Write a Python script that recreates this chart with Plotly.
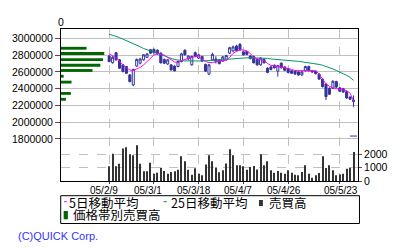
import plotly.graph_objects as go

# ---- data ----
day_index = list(range(72))
date_tick_idx = [0, 13, 26, 39, 52, 67]
date_tick_labels = ["05/2/9", "05/3/1", "05/3/18", "05/4/7", "05/4/26", "05/5/23"]

open_ = [2790000, 2710000, 2830000, 2745000, 2685000, 2665000, 2565000, 2445000, 2670000, 2705000,
         2745000, 2775000, 2865000, 2870000, 2860000, 2825000, 2750000, 2695000, 2685000, 2670000,
         2665000, 2725000, 2860000, 2755000, 2685000, 2830000, 2765000, 2785000, 2690000, 2575000,
         2745000, 2755000, 2745000, 2730000, 2745000, 2825000, 2850000, 2910000, 2930000, 2840000,
         2845000, 2790000, 2785000, 2750000, 2685000, 2750000, 2645000, 2660000, 2680000, 2610000,
         2705000, 2660000, 2640000, 2615000, 2610000, 2600000, 2565000, 2615000, 2665000, 2615000,
         2610000, 2575000, 2515000, 2455000, 2405000, 2405000, 2485000, 2410000, 2400000, 2365000,
         2300000, 2265000]
high = [2800000, 2790000, 2840000, 2755000, 2695000, 2670000, 2575000, 2640000, 2760000, 2770000,
        2815000, 2825000, 2875000, 2880000, 2870000, 2835000, 2760000, 2755000, 2690000, 2680000,
        2735000, 2830000, 2870000, 2800000, 2795000, 2845000, 2815000, 2795000, 2700000, 2695000,
        2830000, 2790000, 2755000, 2790000, 2805000, 2900000, 2915000, 2925000, 2945000, 2850000,
        2855000, 2800000, 2795000, 2760000, 2775000, 2760000, 2655000, 2670000, 2690000, 2685000,
        2715000, 2670000, 2650000, 2625000, 2620000, 2610000, 2610000, 2675000, 2675000, 2625000,
        2620000, 2585000, 2525000, 2465000, 2415000, 2500000, 2495000, 2420000, 2410000, 2375000,
        2310000, 2320000]
low = [2715000, 2700000, 2735000, 2635000, 2595000, 2575000, 2475000, 2430000, 2660000, 2690000,
       2735000, 2765000, 2815000, 2820000, 2805000, 2700000, 2695000, 2685000, 2615000, 2605000,
       2655000, 2715000, 2795000, 2745000, 2675000, 2775000, 2755000, 2720000, 2600000, 2565000,
       2735000, 2700000, 2690000, 2720000, 2735000, 2815000, 2840000, 2845000, 2855000, 2795000,
       2800000, 2750000, 2700000, 2675000, 2675000, 2700000, 2585000, 2620000, 2640000, 2545000,
       2640000, 2610000, 2585000, 2575000, 2565000, 2555000, 2550000, 2605000, 2605000, 2590000,
       2570000, 2505000, 2415000, 2265000, 2325000, 2395000, 2410000, 2360000, 2350000, 2280000,
       2265000, 2180000]
close = [2725000, 2775000, 2745000, 2645000, 2605000, 2585000, 2485000, 2630000, 2750000, 2755000,
         2805000, 2815000, 2825000, 2830000, 2815000, 2710000, 2705000, 2745000, 2625000, 2615000,
         2725000, 2815000, 2805000, 2790000, 2785000, 2785000, 2805000, 2730000, 2610000, 2685000,
         2810000, 2725000, 2700000, 2780000, 2795000, 2890000, 2900000, 2855000, 2865000, 2805000,
         2810000, 2760000, 2710000, 2685000, 2765000, 2710000, 2595000, 2630000, 2650000, 2675000,
         2650000, 2620000, 2595000, 2585000, 2575000, 2565000, 2600000, 2665000, 2615000, 2600000,
         2580000, 2515000, 2425000, 2305000, 2335000, 2490000, 2420000, 2370000, 2360000, 2290000,
         2275000, 2250000]

ma5 = [2815000, 2797000, 2773000, 2725000, 2684000, 2648000, 2624000, 2618000, 2636000, 2654000,
       2684000, 2725000, 2767000, 2803000, 2821000, 2815000, 2803000, 2773000, 2743000, 2719000,
       2713000, 2737000, 2749000, 2764000, 2776000, 2785000, 2791000, 2749000, 2725000, 2713000,
       2713000, 2719000, 2723000, 2731000, 2743000, 2773000, 2823000, 2845000, 2863000, 2863000,
       2851000, 2821000, 2773000, 2755000, 2747000, 2737000, 2701000, 2678000, 2672000, 2666000,
       2660000, 2650000, 2642000, 2630000, 2618000, 2616000, 2616000, 2616000, 2616000, 2616000,
       2614000, 2576000, 2522000, 2457000, 2427000, 2411000, 2401000, 2393000, 2389000, 2379000,
       2346000, 2254000]
ma25 = [3050000, 3040000, 3025000, 3010000, 2993000, 2976000, 2962000, 2945000, 2925000, 2902000,
        2880000, 2862000, 2850000, 2839000, 2822000, 2807000, 2792000, 2778000, 2762000, 2750000,
        2740000, 2735000, 2733000, 2731000, 2731000, 2731000, 2731000, 2732000, 2733000, 2735000,
        2737000, 2740000, 2743000, 2748000, 2752000, 2755000, 2760000, 2764000, 2767000, 2768000,
        2769000, 2770000, 2770000, 2770000, 2770000, 2768000, 2762000, 2756000, 2751000, 2748000,
        2745000, 2742000, 2738000, 2734000, 2730000, 2727000, 2722000, 2716000, 2711000, 2706000,
        2698000, 2690000, 2680000, 2667000, 2652000, 2636000, 2618000, 2600000, 2580000, 2560000,
        2535000, 2500000]

volume = [1090, 2020, 1090, 1280, 2400, 2500, 1980, 1900, 2640, 1280,
          720, 720, 1360, 540, 620, 990, 740, 540, 670, 720,
          840, 1830, 1460, 840, 470, 940, 540, 420, 1230, 1900,
          1460, 1000, 650, 800, 1300, 2345, 1900, 1160, 1160, 1090,
          840, 1040, 1110, 860, 1975, 1160, 1460, 790, 620, 740,
          620, 540, 790, 620, 470, 420, 670, 1160, 540, 250,
          420, 590, 1830, 960, 1160, 790, 420, 490, 540, 910,
          990, 2150]

price_band = [2883000, 2821000, 2747000, 2680000, 2618000, 2549000, 2479000, 2410000, 2344000, 2274000]
band_volume = [26000, 44000, 42700, 40000, 32000, 2700, 10700, 0, 10000, 5000]

marker_idx = [71]
marker_price = [1835000]

price_ticks = [1800000, 2000000, 2200000, 2400000, 2600000, 2800000, 3000000]
volume_ticks = [0, 1000, 2000]

# ---- styling helpers ----
L, R, T, B = 58, 360, 29, 181
def px(X):
    return (X - L) / (R - L)
def py(Y):
    return (B - Y) / (B - T)

NUMFONT = dict(family="Liberation Sans", size=10.5, color="black")
JPFONT = dict(family="Noto Sans CJK JP", size=12.5, color="black")
DATEFONT = dict(family="Liberation Sans", size=10, color="black")
BLUE = "#333399"

fig = go.Figure()

fig.add_trace(go.Bar(
    x=band_volume, y=price_band, orientation="h", width=34000,
    marker=dict(color="#006600", line=dict(width=0)),
    xaxis="x2", yaxis="y", hoverinfo="skip", showlegend=False))

fig.add_trace(go.Bar(
    x=day_index, y=volume, width=0.3,
    marker=dict(color="#333333", line=dict(width=0)),
    xaxis="x", yaxis="y3", hoverinfo="skip", showlegend=False))

fig.add_trace(go.Candlestick(
    x=day_index, open=open_, high=high, low=low, close=close,
    increasing=dict(line=dict(color=BLUE, width=1), fillcolor="white"),
    decreasing=dict(line=dict(color=BLUE, width=1), fillcolor=BLUE),
    whiskerwidth=0, hoverinfo="skip", showlegend=False))

fig.add_trace(go.Scatter(x=day_index, y=ma25, mode="lines",
                         line=dict(color="#009966", width=1), hoverinfo="skip", showlegend=False))
fig.add_trace(go.Scatter(x=day_index, y=ma5, mode="lines",
                         line=dict(color="#ff00ff", width=1), hoverinfo="skip", showlegend=False))
fig.add_trace(go.Scatter(x=marker_idx, y=marker_price, mode="markers",
                         marker=dict(symbol="line-ew", size=5, line=dict(color=BLUE, width=1)),
                         hoverinfo="skip", showlegend=False))

fig.update_layout(
    width=400, height=250,
    margin=dict(l=L, r=400 - R, t=T, b=250 - B, pad=0),
    paper_bgcolor="white", plot_bgcolor="white",
    boxgap=0.15,
    showlegend=False,
    xaxis=dict(range=[-14, 72.3], tickvals=date_tick_idx, showticklabels=False,
               ticks="outside", ticklen=2, tickcolor=BLUE, tickwidth=1,
               showgrid=True, gridcolor="#c0c0c0", griddash="dash", gridwidth=1,
               showline=True, linecolor="black", linewidth=1, mirror=True,
               zeroline=False, rangeslider=dict(visible=False), fixedrange=True),
    xaxis2=dict(overlaying="x", side="top", anchor="y", range=[0, 302000],
                tickvals=[0], ticktext=["0"], tickfont=NUMFONT, ticks="",
                showgrid=False, showline=False, zeroline=False, fixedrange=True),
    yaxis=dict(range=[1298500, 3113000], tickvals=price_ticks,
               ticktext=[str(v) for v in price_ticks], tickfont=NUMFONT,
               ticks="outside", ticklen=5, tickcolor="#993333", tickwidth=1,
               showgrid=True, gridcolor="#c0c0c0", gridwidth=1,
               showline=True, linecolor="black", linewidth=1, mirror=True,
               zeroline=False, fixedrange=True),
    yaxis3=dict(overlaying="y", side="right", anchor="x", range=[0, 11260],
                tickvals=volume_ticks, ticktext=[str(v) for v in volume_ticks],
                tickfont=NUMFONT, ticks="outside", ticklen=3, tickcolor="#993333",
                showgrid=True, gridcolor="#c0c0c0", griddash="dash", gridwidth=1,
                showline=False, zeroline=False, fixedrange=True),
)

annotations = []
shifts = [-5, -6, -5, -5, -4.5, 1]
for idx, lab, sh in zip(date_tick_idx, date_tick_labels, shifts):
    annotations.append(dict(x=idx, y=py(190.8), xref="x", yref="paper", text=lab,
                            showarrow=False, xanchor="center", yanchor="middle",
                            xshift=sh, font=DATEFONT))

# legend (drawn manually)
shapes = [
    dict(type="rect", xref="paper", yref="paper", x0=px(57.7), x1=px(361.5), y0=py(195.7), y1=py(223.5),
         line=dict(color="black", width=1), fillcolor="white", layer="above"),
    dict(type="line", xref="paper", yref="paper", x0=px(61), x1=px(64), y0=py(201.7), y1=py(201.7),
         line=dict(color="#ff00ff", width=1)),
    dict(type="line", xref="paper", yref="paper", x0=px(162.3), x1=px(165.7), y0=py(201.7), y1=py(201.7),
         line=dict(color="#009966", width=1)),
    dict(type="rect", xref="paper", yref="paper", x0=px(259.3), x1=px(263.3), y0=py(200), y1=py(206),
         line=dict(width=0), fillcolor="#333333"),
    dict(type="rect", xref="paper", yref="paper", x0=px(60.7), x1=px(65), y0=py(211), y1=py(219.3),
         line=dict(width=0), fillcolor="#006600"),
]
legend_texts = [("5日移動平均", 64.5, 202.2), ("25日移動平均", 167.8, 202.2),
                ("売買高", 267.8, 202.2), ("価格帯別売買高", 67.8, 214.2)]
for txt, X, Y in legend_texts:
    annotations.append(dict(x=px(X), y=py(Y), xref="paper", yref="paper", text=txt,
                            showarrow=False, xanchor="left", yanchor="middle", font=JPFONT))

annotations.append(dict(x=px(12), y=py(235.5), xref="paper", yref="paper", text="(C)QUICK Corp.",
                        showarrow=False, xanchor="left", yanchor="middle",
                        font=dict(family="Liberation Sans", size=11, color="#3333ff")))

fig.update_layout(shapes=shapes, annotations=annotations)

fig.write_html("out.html")
